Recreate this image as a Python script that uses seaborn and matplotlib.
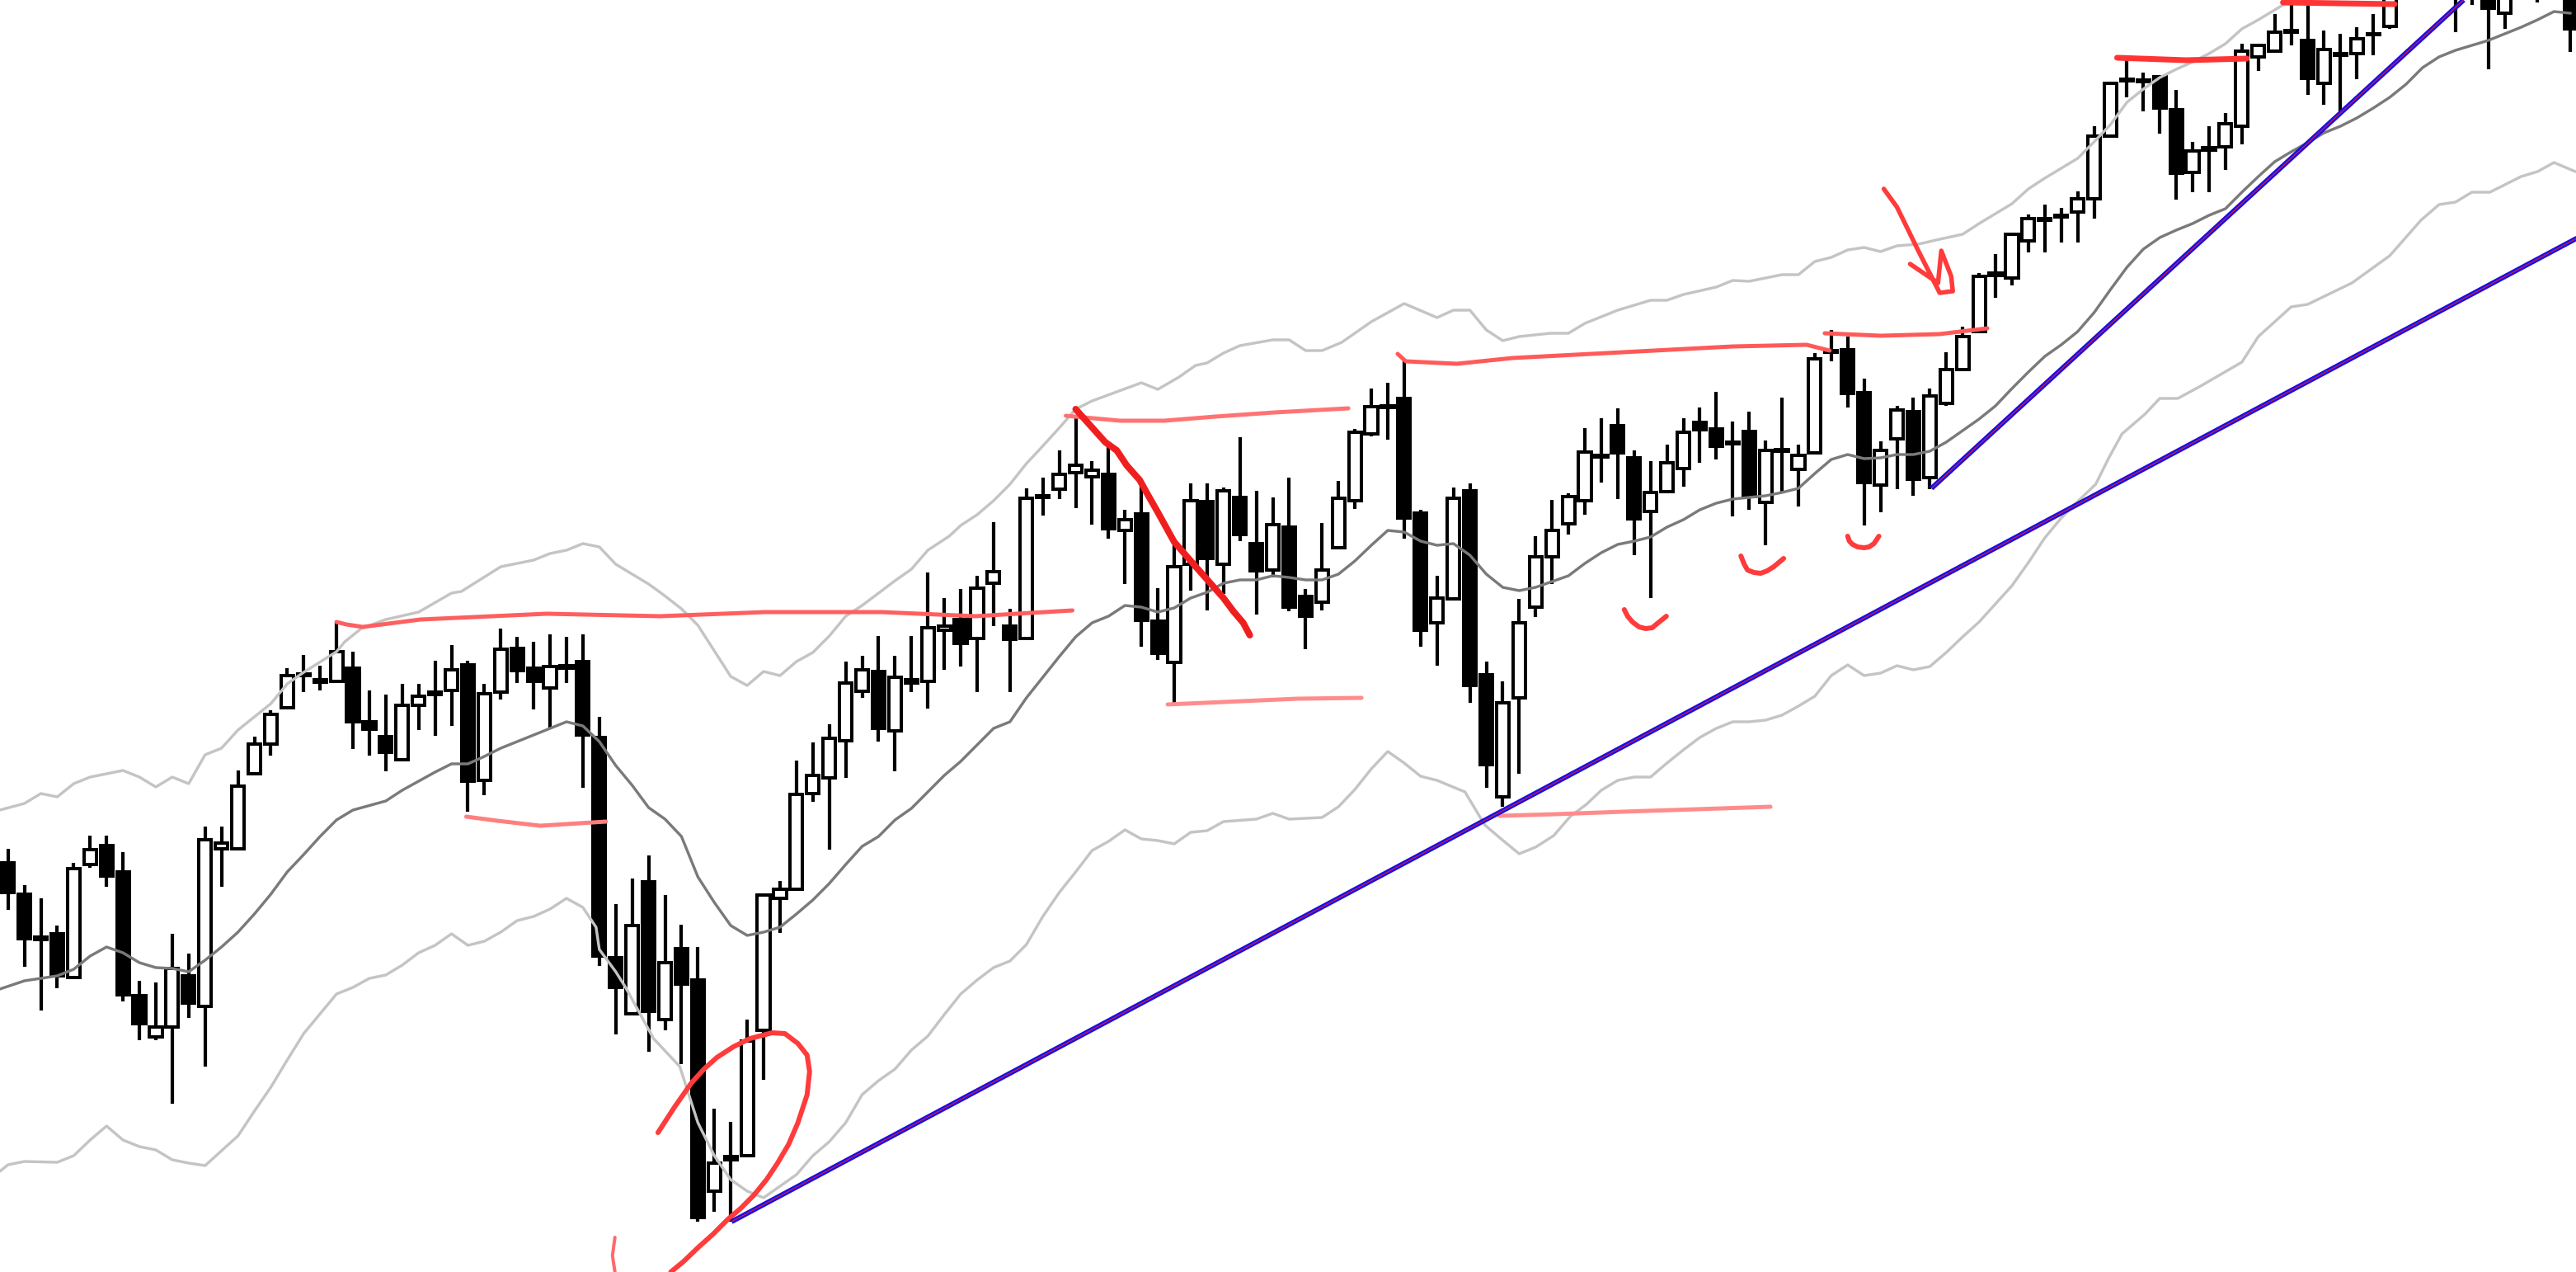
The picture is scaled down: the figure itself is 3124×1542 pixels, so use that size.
import pandas as pd
import seaborn as sns
from matplotlib import pyplot as plt

# candles, one row of ten per line (open, close, high, low in price units)
opens = [496, 458, 406, 410, 357, 494, 517, 485, 335, 285,
         297, 359, 322, 513, 513, 604, 640, 684, 723, 715,
         716, 732, 667, 649, 621, 687, 700, 705, 736, 596,
         703, 756, 732, 708, 732, 740, 648, 381, 313, 473,
         306, 392, 354, 98, 136, 141, 293, 453, 464, 580,
         599, 644, 704, 728, 656, 714, 716, 778, 791, 768,
         835, 783, 768, 939, 949, 969, 964, 967, 899, 919,
         789, 739, 858, 934, 858, 939, 883, 851, 903, 819,
         812, 878, 935, 1016, 1048, 1059, 920, 787, 816, 947,
         724, 576, 696, 806, 867, 907, 935, 988, 1026, 987,
         922, 946, 974, 1030, 1022, 1004, 1019, 933, 995, 973,
         993, 1115, 1118, 1066, 954, 1010, 1043, 963, 1053, 1094,
         1140, 1208, 1205, 1250, 1275, 1279, 1285, 1301, 1377, 1444,
         1443, 1449, 1409, 1333, 1360, 1364, 1389, 1473, 1480, 1503,
         1493, 1441, 1475, 1477, 1500, 1510, 1580, 1590, 1600, 1560,
         1565, 1570, 1526, 1560, 1560, 1555, 1570]
closes = [460, 404, 403, 359, 489, 512, 480, 336, 301, 297,
          368, 326, 524, 520, 589, 640, 676, 723, 725, 718,
          752, 667, 658, 630, 687, 698, 703, 730, 595, 701,
          755, 729, 716, 734, 735, 651, 383, 345, 420, 316,
          375, 349, 66, 132, 140, 280, 457, 464, 579, 602,
          647, 714, 730, 659, 721, 718, 781, 783, 762, 829,
          849, 767, 938, 941, 967, 978, 972, 901, 912, 790,
          750, 855, 935, 865, 947, 894, 850, 906, 806, 795,
          851, 938, 1018, 1049, 1050, 914, 778, 817, 938, 711,
          615, 690, 787, 867, 899, 940, 994, 990, 993, 913,
          945, 981, 1018, 1021, 1001, 1006, 940, 996, 997, 990,
          1107, 1117, 1065, 957, 996, 1045, 961, 1062, 1094, 1134,
          1207, 1211, 1258, 1277, 1277, 1281, 1301, 1377, 1441, 1446,
          1445, 1411, 1332, 1359, 1363, 1392, 1480, 1487, 1503, 1505,
          1447, 1482, 1477, 1495, 1501, 1570, 1600, 1610, 1580, 1580,
          1585, 1532, 1570, 1570, 1575, 1570, 1507]
highs = [513, 469, 453, 420, 496, 529, 529, 509, 353, 351,
         410, 386, 540, 540, 608, 649, 681, 732, 748, 735,
         788, 752, 705, 700, 713, 713, 741, 760, 741, 713,
         780, 770, 764, 773, 770, 773, 673, 446, 477, 505,
         457, 421, 394, 198, 182, 306, 457, 474, 620, 642,
         664, 740, 747, 771, 747, 771, 848, 817, 828, 844,
         909, 804, 950, 963, 996, 1038, 983, 1003, 924, 960,
         829, 889, 956, 956, 951, 1012, 947, 939, 963, 828,
         908, 959, 1022, 1071, 1078, 1107, 924, 844, 951, 956,
         740, 716, 816, 892, 936, 944, 1023, 1035, 1047, 996,
         983, 1003, 1035, 1048, 1067, 1031, 1043, 1008, 1060, 1003,
         1114, 1142, 1134, 1083, 1007, 1050, 1060, 1071, 1115, 1146,
         1211, 1234, 1258, 1282, 1294, 1290, 1310, 1389, 1441, 1473,
         1454, 1450, 1433, 1370, 1389, 1405, 1489, 1489, 1525, 1560,
         1560, 1505, 1501, 1509, 1525, 1590, 1610, 1620, 1610, 1590,
         1590, 1590, 1590, 1590, 1590, 1590, 1590]
lows = [439, 370, 317, 344, 356, 490, 467, 328, 281, 281,
        204, 308, 249, 467, 513, 604, 626, 684, 703, 705,
        716, 634, 626, 607, 621, 657, 650, 662, 558, 578,
        694, 714, 682, 659, 714, 587, 371, 288, 313, 267,
        293, 252, 61, 73, 61, 141, 233, 411, 464, 570,
        512, 599, 696, 643, 607, 703, 683, 730, 734, 703,
        783, 703, 768, 917, 937, 926, 906, 889, 834, 758,
        742, 690, 826, 802, 822, 886, 797, 842, 801, 755,
        802, 878, 925, 1013, 1009, 889, 758, 735, 814, 690,
        587, 564, 604, 794, 834, 894, 918, 957, 937, 869,
        817, 946, 952, 981, 985, 916, 924, 881, 945, 928,
        993, 1104, 1048, 905, 921, 949, 941, 949, 1050, 1093,
        1138, 1181, 1196, 1236, 1236, 1248, 1248, 1277, 1377, 1424,
        1407, 1380, 1300, 1309, 1309, 1336, 1367, 1456, 1480, 1487,
        1427, 1415, 1407, 1446, 1475, 1507, 1560, 1570, 1560, 1503,
        1536, 1458, 1507, 1545, 1539, 1545, 1479]

upper_x = [-0.5, 1, 2, 3, 4, 5, 7, 8, 9, 10, 11, 12, 13, 14, 15, 16, 17, 18, 20, 20.5,
           21.5, 23, 25, 27, 27.6, 30, 32, 33, 34, 35, 36, 37, 39, 39.9, 41, 42, 43, 44, 45, 46,
           47, 48, 49, 50, 51, 52, 53, 54, 55, 56, 57.3, 58, 59, 60, 61, 62, 62.8, 63.9, 65, 66,
           69, 70, 71.3, 72.3, 73, 74, 75, 77, 78, 79, 80, 81.2, 83, 85, 87, 88, 89, 90, 91, 92,
           93.9, 95, 96, 98, 100, 101, 102, 104, 105, 106, 108, 109, 110, 111, 112, 113, 114, 115, 116.3, 117.6,
           119, 120, 121, 122, 123, 124, 125, 126, 127, 128, 129, 130, 131, 132, 133, 134, 135, 136, 137, 138, 139]
upper_y = [560, 568, 580, 576, 592, 600, 608, 600, 588, 600, 592, 627, 635, 657, 673, 689, 713, 727, 752, 764,
           780, 791, 800, 823, 825, 855, 863, 871, 875, 883, 879, 858, 834, 821, 804, 784, 753, 722, 711, 728,
           723, 740, 751, 771, 795, 808, 823, 838, 852, 875, 892, 905, 918, 935, 955, 980, 997, 1021, 1046, 1056,
           1078, 1070, 1085, 1099, 1102, 1114, 1123, 1130, 1130, 1117, 1117, 1127, 1152, 1174, 1157, 1166, 1166, 1142, 1129, 1134,
           1138, 1138, 1150, 1166, 1178, 1178, 1185, 1194, 1202, 1201, 1209, 1209, 1225, 1230, 1239, 1242, 1237, 1244, 1246, 1252,
           1258, 1271, 1283, 1295, 1313, 1326, 1338, 1350, 1370, 1391, 1418, 1434, 1448, 1458, 1467, 1477, 1489, 1507, 1518, 1530, 1542]

mid_x = [-0.5, 1, 3, 4, 5, 6, 7, 8, 9, 10, 11, 12, 13, 14, 15, 16, 17, 18, 19, 20,
         21, 23, 24, 25, 26, 27, 28, 29, 30, 31, 32, 33, 34, 35, 36, 37, 38, 39, 40, 41,
         42, 43, 44, 45, 46, 47, 48, 49, 50, 51, 52, 53, 54, 55, 56, 57, 58, 59, 60, 61,
         62, 63, 64, 65, 66, 67, 68, 69, 70, 71, 72, 73, 74, 75, 76, 77, 78, 79, 80, 81,
         82, 83, 84, 85, 86, 87, 88, 89, 90, 91, 92, 93, 94, 95, 96, 97, 98, 99, 100, 101,
         102, 103, 104, 105, 106, 107, 108, 109, 110, 111, 112, 113, 114, 115, 116, 117, 118, 119, 120, 121,
         122, 123, 124, 125, 126, 127, 128, 129, 130, 131, 132, 133, 134, 135, 136, 137, 138, 139, 140, 141,
         142, 143, 144, 145, 146, 147, 148, 149, 150, 151, 152, 153, 154, 155, 156]
mid_y = [343, 353, 359, 367, 383, 394, 387, 375, 369, 368, 364, 378, 394, 412, 434, 458, 485, 506, 528, 548,
         560, 571, 584, 595, 606, 616, 616, 625, 635, 643, 651, 659, 667, 662, 643, 614, 590, 563, 549, 528,
         479, 448, 420, 408, 412, 418, 434, 451, 471, 494, 516, 528, 548, 562, 582, 602, 619, 639, 659, 667,
         696, 721, 746, 770, 787, 795, 808, 806, 800, 805, 817, 824, 835, 839, 839, 844, 842, 839, 839, 846,
         862, 881, 899, 897, 886, 881, 883, 869, 846, 830, 826, 830, 837, 844, 859, 872, 882, 886, 891, 903,
         912, 924, 932, 937, 939, 941, 945, 950, 968, 985, 991, 986, 987, 991, 991, 995, 1006, 1020, 1034, 1050,
         1071, 1091, 1110, 1124, 1140, 1163, 1191, 1218, 1240, 1254, 1263, 1271, 1281, 1289, 1309, 1328, 1346, 1358, 1369, 1381,
         1389, 1399, 1411, 1424, 1440, 1460, 1473, 1481, 1487, 1493, 1501, 1509, 1518, 1528, 1526]

lower_x = [-0.5, 0, 1, 3, 4, 5, 6, 7, 8, 9, 10, 11, 12, 13, 14, 15, 16, 17, 18, 19,
           20, 21, 22, 23, 24, 25, 26, 27, 28, 29, 30, 31, 32, 33, 34, 35, 35.8, 36, 37, 37.6,
           39.3, 40.9, 42, 43, 44, 45, 46, 47, 48, 49, 50, 51, 52, 53, 54, 55, 56, 57, 58, 59,
           60, 61, 62, 63, 64, 65, 66, 67, 68, 69, 70, 71, 72, 73, 74, 76, 77, 78, 80, 81,
           82, 83, 84, 85, 86, 87, 88.7, 89.9, 90.9, 92, 93, 94.1, 95.1, 96.1, 97, 98, 99, 100, 101, 102,
           103, 104, 105, 106, 107, 108, 109, 110, 111, 112, 113, 114, 115, 116, 117, 118, 119, 120, 121, 122,
           123, 124, 125, 126, 127.1, 127.9, 128.7, 130.1, 131, 132.1, 133.4, 136, 137, 139, 140, 142.7, 145, 146.9, 148, 149,
           150, 151.1, 153, 154, 155, 156.3]
lower_y = [122, 130, 134, 133, 141, 160, 177, 160, 152, 148, 136, 132, 129, 147, 165, 195, 224, 257, 289, 313,
           337, 345, 356, 360, 372, 387, 396, 410, 396, 401, 412, 426, 431, 440, 453, 442, 418, 391, 364, 345,
           283, 249, 181, 141, 112, 98, 90, 104, 118, 141, 158, 181, 215, 232, 246, 269, 286, 312, 337, 354,
           369, 377, 397, 431, 460, 485, 511, 522, 536, 525, 523, 519, 533, 535, 546, 549, 556, 549, 551, 564,
           585, 610, 631, 617, 601, 596, 582, 542, 525, 507, 515, 529, 552, 567, 584, 596, 600, 600, 617, 633,
           648, 659, 667, 667, 669, 675, 686, 698, 723, 736, 723, 726, 735, 730, 734, 751, 770, 788, 810, 832,
           860, 890, 914, 934, 955, 987, 1016, 1040, 1059, 1059, 1073, 1103, 1134, 1170, 1173, 1199, 1232, 1275, 1294, 1297,
           1309, 1309, 1328, 1334, 1345, 1334]

# trend lines drawn on the chart
trend_long_x = [44.05, 157.5]
trend_long_y = [61, 1265]
trend_short_x = [117.1, 149.5]
trend_short_y = [950, 1542]

# hand-drawn strokes: (bar, price) pairs
stroke_res1_x = [20.0, 20.6, 21.6, 25.1, 32.8, 39.7, 46.1, 53.2, 58.9, 64.8]
stroke_res1_y = [788, 785, 782, 791, 798, 795, 800, 800, 795, 802]
stroke_sup1_x = [27.9, 29.8, 32.4, 36.4]
stroke_sup1_y = [552, 547, 541, 546]
stroke_diag_x = [65, 65.9, 66.8, 67.5, 68.1, 68.9, 69.4, 70, 70.5, 71, 71.7, 72.4, 73.2, 74, 74.6, 75.2, 75.6]
stroke_diag_y = [1046, 1026, 1006, 996, 978, 960, 942, 921, 903, 885, 869, 853, 835, 817, 801, 787, 772]
stroke_res2_x = [64.4, 67.7, 70.4, 73.5, 77.1, 81.6]
stroke_res2_y = [1038, 1032, 1032, 1037, 1042, 1047]
stroke_sup2_x = [70.6, 74, 78.5, 82.4]
stroke_sup2_y = [688, 691, 695, 696]
stroke_sup3_x = [90.8, 94.2, 98.3, 107.3]
stroke_sup3_y = [553, 555, 558, 564]
stroke_res3_x = [84.6, 85.1, 88.2, 91.6, 98.3, 105, 109.5, 110.9]
stroke_res3_y = [1113, 1104, 1101, 1108, 1115, 1122, 1124, 1117]
stroke_res4_x = [110.6, 114, 117.6, 120.5]
stroke_res4_y = [1138, 1135, 1137, 1144]
stroke_res5_x = [128.4, 132.6, 136.3]
stroke_res5_y = [1472, 1469, 1471]
stroke_res6_x = [138.5, 145.3]
stroke_res6_y = [1539, 1537]
smile1_x = [98.4, 98.6, 98.9, 99.3, 99.7, 100.1, 100.4, 100.96]
smile1_y = [803, 795, 788, 782, 780, 781, 786, 795]
smile2_x = [105.5, 105.7, 105.9, 106.3, 106.7, 107.1, 107.5, 108.1]
smile2_y = [868, 858, 851, 848, 847, 850, 855, 865]
smile3_x = [112, 112.1, 112.3, 112.6, 113, 113.3, 113.6, 113.9]
smile3_y = [892, 886, 882, 879, 878, 879, 883, 892]
arrow_x = [114.2, 115, 116.3, 117.6, 118.4, 118.3, 117.7, 117.5, 115.8]
arrow_y = [1313, 1291, 1238, 1187, 1189, 1207, 1238, 1199, 1222]
loop_x = [39.57, 40.58, 41.6, 42.37, 43.15, 44.16, 45.17, 46.52, 47.3, 48.09, 48.65, 48.8, 48.65, 48.09, 47.53,
          46.85, 46.18, 45.4, 44.6, 43.83, 42.93, 42.03, 41.14, 40.35]
loop_y = [169, 200, 229, 246, 260, 273, 283, 290, 289, 277, 263, 243, 215, 181, 155,
          132, 112, 93, 77, 64, 46, 30, 13, 0]
tail_x = [36.95, 36.8, 36.95]
tail_y = [42, 20, 0]

STROKES = [
    (stroke_res1_x, stroke_res1_y, '#ff5f5f', 5),
    (stroke_sup1_x, stroke_sup1_y, '#ff7f7f', 5),
    (stroke_res2_x, stroke_res2_y, '#ff7373', 5),
    (stroke_sup2_x, stroke_sup2_y, '#ff8c8c', 5),
    (stroke_sup3_x, stroke_sup3_y, '#ff8c8c', 5),
    (stroke_res3_x, stroke_res3_y, '#ff5a5a', 5),
    (stroke_res4_x, stroke_res4_y, '#ff5a5a', 5),
    (stroke_res5_x, stroke_res5_y, '#ff3535', 7),
    (stroke_res6_x, stroke_res6_y, '#ff3535', 7),
    (stroke_diag_x, stroke_diag_y, '#f01f1f', 8),
    (smile1_x, smile1_y, '#ff3b3b', 6),
    (smile2_x, smile2_y, '#ff3b3b', 6),
    (smile3_x, smile3_y, '#ff3b3b', 6),
    (arrow_x, arrow_y, '#ff3b3b', 5.5),
    (loop_x, loop_y, '#ff3b3b', 6),
    (tail_x, tail_y, '#ff6a6a', 4),
]


def px(width):
    # line widths below are given in picture pixels
    return width * 72 / 100


sns.set_theme(style='white')
fig = plt.figure(figsize=(31.24, 15.42), dpi=100)
ax = fig.add_axes([0, 0, 1, 1])

df = pd.DataFrame({'open': opens, 'close': closes, 'high': highs, 'low': lows})
df['bar'] = df.index
df['top'] = df[['open', 'close']].max(axis=1)
df['bottom'] = df[['open', 'close']].min(axis=1)
df['colour'] = ['white' if c >= o else 'black' for o, c in zip(df['open'], df['close'])]

ax.vlines(df['bar'], df['low'], df['high'], color='black', linewidth=px(4.2), zorder=2)
ax.bar(df['bar'], df['top'] - df['bottom'], bottom=df['bottom'], width=0.76,
       color=df['colour'], edgecolor='black', linewidth=px(4), zorder=3)

for xs, ys, col in [(upper_x, upper_y, '#c4c4c4'), (lower_x, lower_y, '#c4c4c4'), (mid_x, mid_y, '#7a7a7a')]:
    sns.lineplot(x=xs, y=ys, ax=ax, color=col, linewidth=px(3.4), estimator=None, sort=False, legend=False, zorder=4)

for xs, ys in [(trend_long_x, trend_long_y), (trend_short_x, trend_short_y)]:
    ax.plot(xs, ys, color='#1a0ee6', linewidth=px(6), solid_capstyle='butt', zorder=6)
    ax.plot(xs, ys, color='#d0203c', linewidth=px(1.2), solid_capstyle='butt', zorder=7)

for xs, ys, col, width in STROKES:
    sns.lineplot(x=xs, y=ys, ax=ax, color=col, linewidth=px(width), estimator=None, sort=False,
                 legend=False, zorder=5, solid_capstyle='round')

ax.set_xlim(-0.487, 156.34)
ax.set_ylim(0, 1542)
ax.set_xlabel('')
ax.set_ylabel('')
ax.axis('off')

plt.savefig('out.png', dpi=100)
